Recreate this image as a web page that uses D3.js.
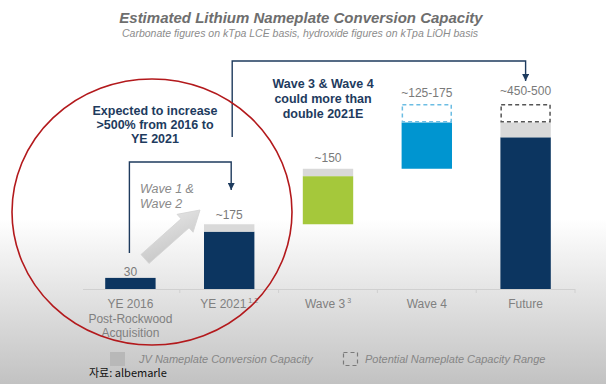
<!DOCTYPE html>
<html>
<head>
<meta charset="utf-8">
<script src="https://cdn.jsdelivr.net/npm/d3@7"></script>
<style>
  body { margin: 0; background: #fff; }
  svg { display: block; font-family: "Liberation Sans", Arial, sans-serif; }
</style>
</head>
<body>
<div id="graph"></div>
<script>
// Chart data
var categories = ["YE 2016", "YE 2021", "Wave 3", "Wave 4", "Future"];
var categoryLines = [["YE 2016", "Post-Rockwood", "Acquisition"], ["YE 2021"], ["Wave 3"], ["Wave 4"], ["Future"]];
var categorySup = ["", "1,2", "3", "", ""];
var baseValues = [0, 0, 175, 325, 0];
var mainValues = [30, 155, 130, 125, 410];
var jvValues = [0, 20, 20, 0, 40];
var rangeValues = [0, 0, 0, 50, 50];
var valueLabels = ["30", "~175", "~150", "~125-175", "~450-500"];

// styles
var mainColors = ["#0c3560", "#0c3560", "#a5c83b", "#0095d0", "#0c3560"];
var dashColors = ["#888", "#888", "#888", "#6cbde3", "#555"];
var labelGap = [2, 5, 7, 7, 9];

var width = 606, height = 384;
var baseline = 289;

var x = d3.scaleBand().domain(categories).range([81, 575]).paddingInner(0.49).paddingOuter(0.245);
var y = d3.scaleLinear().domain([0, 500]).range([baseline, 104]);

var svg = d3.select("#graph").append("svg")
    .attr("width", width)
    .attr("height", height);

// background gradient
var defs = svg.append("defs");
var bg = defs.append("linearGradient").attr("id", "bg")
    .attr("x1", 0).attr("y1", 0).attr("x2", 0).attr("y2", 1);
bg.append("stop").attr("offset", "0%").attr("stop-color", "#ffffff");
bg.append("stop").attr("offset", "57%").attr("stop-color", "#ffffff");
bg.append("stop").attr("offset", "100%").attr("stop-color", "#c2c2c2");

var ag = defs.append("linearGradient").attr("id", "arrowFill")
    .attr("x1", 0).attr("y1", 1).attr("x2", 1).attr("y2", 0);
ag.append("stop").attr("offset", "0%").attr("stop-color", "#c6c6c6");
ag.append("stop").attr("offset", "100%").attr("stop-color", "#e4e4e4");

svg.append("rect").attr("width", width).attr("height", height).attr("fill", "url(#bg)");

// title
svg.append("text")
    .attr("x", 301).attr("y", 23)
    .attr("text-anchor", "middle")
    .style("font-size", "15px").style("font-weight", "bold").style("font-style", "italic")
    .attr("fill", "#6e6e6e")
    .text("Estimated Lithium Nameplate Conversion Capacity");
svg.append("text")
    .attr("x", 300).attr("y", 37)
    .attr("text-anchor", "middle")
    .style("font-size", "10.5px").style("font-style", "italic")
    .attr("fill", "#8c8c8c")
    .text("Carbonate figures on kTpa LCE basis, hydroxide figures on kTpa LiOH basis");

// axis line with ticks at band boundaries
var axis = svg.append("g");
axis.append("line")
    .attr("x1", 83).attr("x2", 575)
    .attr("y1", baseline + 0.5).attr("y2", baseline + 0.5)
    .attr("stroke", "#d0d0d0").attr("stroke-width", 1.2);
var bounds = categories.slice(1).map(function(c) { return x(c) - x.step() * x.paddingInner() / 2; });
bounds.push(575);
axis.selectAll("line.tick").data(bounds).enter().append("line")
    .attr("class", "tick")
    .attr("x1", function(d) { return d; }).attr("x2", function(d) { return d; })
    .attr("y1", baseline).attr("y2", baseline + 4)
    .attr("stroke", "#d0d0d0");

var idx = d3.range(categories.length);

// main bars
svg.selectAll("rect.main").data(idx).enter().append("rect")
    .attr("class", "main")
    .attr("x", function(i) { return x(categories[i]); })
    .attr("width", x.bandwidth())
    .attr("y", function(i) { return y(baseValues[i] + mainValues[i]); })
    .attr("height", function(i) { return y(baseValues[i]) - y(baseValues[i] + mainValues[i]); })
    .attr("fill", function(i) { return mainColors[i]; });

// JV bars
svg.selectAll("rect.jv").data(idx.filter(function(i) { return jvValues[i] > 0; })).enter().append("rect")
    .attr("class", "jv")
    .attr("x", function(i) { return x(categories[i]); })
    .attr("width", x.bandwidth())
    .attr("y", function(i) { return y(baseValues[i] + mainValues[i] + jvValues[i]); })
    .attr("height", function(i) { return y(baseValues[i] + mainValues[i]) - y(baseValues[i] + mainValues[i] + jvValues[i]); })
    .attr("fill", "#d9d9d9");

// potential range dashed boxes
svg.selectAll("rect.range").data(idx.filter(function(i) { return rangeValues[i] > 0; })).enter().append("rect")
    .attr("class", "range")
    .attr("x", function(i) { return x(categories[i]) + 0.75; })
    .attr("width", x.bandwidth() - 1.5)
    .attr("y", function(i) { return y(baseValues[i] + mainValues[i] + jvValues[i] + rangeValues[i]) + 0.75; })
    .attr("height", function(i) { return y(baseValues[i] + mainValues[i] + jvValues[i]) - y(baseValues[i] + mainValues[i] + jvValues[i] + rangeValues[i]) - 1.5; })
    .attr("fill", "#ffffff")
    .attr("stroke", function(i) { return dashColors[i]; })
    .attr("stroke-width", 1.5)
    .attr("stroke-dasharray", "4,3");

// value labels
svg.selectAll("text.val").data(idx).enter().append("text")
    .attr("class", "val")
    .attr("x", function(i) { return x(categories[i]) + x.bandwidth() / 2; })
    .attr("y", function(i) { return y(baseValues[i] + mainValues[i] + jvValues[i] + rangeValues[i]) - labelGap[i]; })
    .attr("text-anchor", "middle")
    .style("font-size", "12px")
    .attr("fill", "#7a7a7a")
    .text(function(i) { return valueLabels[i]; });

// category labels
var cat = svg.selectAll("text.cat").data(idx).enter().append("text")
    .attr("class", "cat")
    .attr("x", function(i) { return x(categories[i]) + x.bandwidth() / 2; })
    .attr("y", 308)
    .attr("text-anchor", "middle")
    .style("font-size", "12px")
    .attr("fill", "#808080");
cat.each(function(i) {
    var t = d3.select(this);
    categoryLines[i].forEach(function(line, k) {
        t.append("tspan")
            .attr("x", x(categories[i]) + x.bandwidth() / 2)
            .attr("dy", k === 0 ? 0 : 14.5)
            .text(line);
        if (k === 0 && categorySup[i]) {
            t.append("tspan").attr("dy", -5).style("font-size", "7px").text(" " + categorySup[i]);
        }
    });
});

// annotations
var navy = "#1e3b5e";
var c2021 = x("YE 2021") + x.bandwidth() / 2;
var c2016 = x("YE 2016") + x.bandwidth() / 2;
var cFuture = x("Future") + x.bandwidth() / 2;

defs.append("marker").attr("id", "head")
    .attr("viewBox", "0 0 10 10").attr("refX", 10).attr("refY", 5)
    .attr("markerWidth", 7).attr("markerHeight", 7)
    .attr("markerUnits", "userSpaceOnUse")
    .attr("orient", "auto")
    .append("path").attr("d", "M0,0L10,5L0,10Z").attr("fill", navy);

svg.append("path")
    .attr("d", "M" + (c2021 + 3) + ",137V61H" + cFuture + "V81")
    .attr("fill", "none").attr("stroke", navy).attr("stroke-width", 1.4)
    .attr("marker-end", "url(#head)");
svg.append("path")
    .attr("d", "M" + (c2016 - 1) + ",253V162H" + (c2021 + 2) + "V190")
    .attr("fill", "none").attr("stroke", navy).attr("stroke-width", 1.4)
    .attr("marker-end", "url(#head)");

function lines(xx, yy, arr, opts) {
    var t = svg.append("text")
        .attr("x", xx).attr("y", yy)
        .attr("text-anchor", opts.anchor || "middle")
        .style("font-size", opts.size || "12px")
        .style("font-weight", opts.weight || "normal")
        .style("font-style", opts.style || "normal")
        .attr("fill", opts.fill);
    arr.forEach(function(s, k) {
        t.append("tspan").attr("x", xx).attr("dy", k === 0 ? 0 : (opts.lh || 14)).text(s);
    });
}

lines(155, 115, ["Expected to increase", ">500% from 2016 to", "YE 2021"],
    { weight: "bold", fill: navy, lh: 14, size: "12.5px" });
lines(323, 88, ["Wave 3 & Wave 4", "could more than", "double 2021E"],
    { weight: "bold", fill: navy, lh: 15, size: "12.5px" });
lines(140, 193, ["Wave 1 &", "Wave 2"],
    { anchor: "start", style: "italic", fill: "#8a8a8a", lh: 15, size: "12.5px" });

// gray arrow
var ax0 = 145, ay0 = 259, ax1 = 200, ay1 = 210;
var ang = Math.atan2(ay1 - ay0, ax1 - ax0);
var len = Math.hypot(ax1 - ax0, ay1 - ay0);
var shaft = 6, headW = 12, headL = 20;
svg.append("path")
    .attr("transform", "translate(" + ax0 + "," + ay0 + ") rotate(" + (ang * 180 / Math.PI) + ")")
    .attr("d", "M0," + (-shaft) + "L" + (len - headL) + "," + (-shaft) + "L" + (len - headL) + "," + (-headW) +
        "L" + len + ",0L" + (len - headL) + "," + headW + "L" + (len - headL) + "," + shaft + "L0," + shaft + "Z")
    .attr("fill", "url(#arrowFill)")
    .attr("stroke", "#d4d4d4").attr("stroke-width", 0.8);

// red ellipse
svg.append("ellipse")
    .attr("cx", 152).attr("cy", 212).attr("rx", 140).attr("ry", 133)
    .attr("fill", "none").attr("stroke", "#b3191c").attr("stroke-width", 1.6);

// legend
svg.append("rect").attr("x", 110).attr("y", 352).attr("width", 15).attr("height", 14).attr("fill", "#b8b8b8");
svg.append("text").attr("x", 139).attr("y", 363)
    .style("font-size", "11px").style("font-style", "italic").attr("fill", "#868686")
    .text("JV Nameplate Conversion Capacity");
svg.append("rect").attr("x", 343.5).attr("y", 352.5).attr("width", 14).attr("height", 13)
    .attr("fill", "none").attr("stroke", "#7a7a7a").attr("stroke-dasharray", "4,3").attr("stroke-width", 1.2);
svg.append("text").attr("x", 365).attr("y", 363)
    .style("font-size", "11px").style("font-style", "italic").attr("fill", "#868686")
    .text("Potential Nameplate Capacity Range");

// source
svg.append("text").attr("x", 89).attr("y", 377)
    .style("font-size", "11px").attr("fill", "#111")
    .style("font-family", "'Noto Sans CJK KR', 'Liberation Sans', sans-serif")
    .text("자료: albemarle");
</script>
</body>
</html>
